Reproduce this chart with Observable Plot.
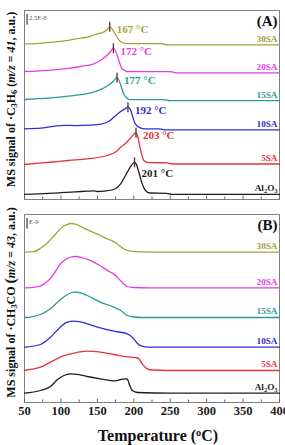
<!DOCTYPE html>
<html><head><meta charset="utf-8">
<script src="https://cdn.jsdelivr.net/npm/d3@7"></script>
<script src="https://cdn.jsdelivr.net/npm/@observablehq/plot@0.6"></script>
<style>
body{margin:0;background:#fff;}
#chart svg{display:block;}
</style></head><body><div id="chart"></div>
<script>
// ---------- data ----------
const samples = ["Al2O3", "5SA", "10SA", "15SA", "20SA", "30SA"];
const colors = ["#1e1e1e", "#e8323a", "#2e2ed8", "#2a9b95", "#e23fe2", "#a2a234"];
const peakTemps = [201, 203, 192, 177, 172, 167];
const offsetsA = [5.2, 35.5, 69.7, 98.8, 126.7, 154.7];
const offsetsB = [9.3, 32, 55.3, 85, 114.7, 150.3];
const xTicksMajor = [50, 100, 150, 200, 250, 300, 350, 400];
const xTicksMinor = [75, 125, 175, 225, 275, 325, 375];

// Panel A: ·C3H6 (m/z = 41), [temperature, signal above baseline]
const a_Al2O3 = [[50,0],[70,0.5],[90,1.1],[120,2.5],[136,3.1],[145,3.5],[150,2.8],[160,3.2],[172.6,4.8],[182,10.5],[188.6,18.8],[195,27],[201,32],[203.5,30],[207,22],[211.5,10.5],[216,3.8],[222,1.3],[245,1],[252,0],[400,0]];
const a_5SA = [[50,-0.5],[70,0.8],[90,2],[110,3.5],[136,5.2],[163.5,8.5],[175,12],[182,16.8],[190,21.5],[195.5,25.8],[203,31.2],[205.5,27],[209,15.2],[213.8,3.5],[220,1.3],[245,1.2],[253,0],[400,0]];
const a_10SA = [[50,1],[72,1.6],[90,3.5],[104,4.5],[120,4.2],[140,4.6],[155,5.6],[166,8.5],[172.6,12.6],[182,18.3],[188,21],[192,22.6],[196,19],[198,14.3],[202,6],[209,2],[215,1],[235,0.9],[243,0],[400,0]];
const a_15SA = [[50,1.2],[70,2],[90,3],[110,4.5],[127,6],[145,8.5],[154,11],[165,15.5],[172,19.5],[177,23],[181,18],[186,7],[190,3],[194,1.1],[240,1],[250,0],[400,0]];
const a_20SA = [[50,1.3],[70,2],[90,3],[110,4.5],[127,6.3],[145,9],[154,12.3],[163,17.3],[168,21],[172,24.6],[176,20],[179.5,12.3],[184,4],[191,1.3],[250,1.2],[258,0],[400,0]];
const a_30SA = [[50,1],[70,1.5],[90,2.6],[110,4.5],[127,6.6],[140,8.5],[150,11],[158,12.5],[163,14.8],[167,18],[171,15],[175,10],[178,6.5],[182,3],[188,1.5],[195,1.2],[237,1.1],[246,0],[400,0]];

// Panel B: ·CH3CO (m/z = 43)
const b_Al2O3 = [[50,0],[72,2.7],[85.7,6.7],[95,13.4],[104,17.7],[113,19.4],[125,18.5],[136,16.7],[154,14.4],[175,12.3],[182,13.7],[188.6,14.4],[191,14],[194.5,7.7],[198,2.7],[205,0.7],[250,0],[400,0]];
const b_5SA = [[50,0],[60,1.3],[72,3.3],[85.7,8.3],[99,13.3],[117.7,17.3],[136,19.3],[154,18.3],[172.6,16],[195.5,13.3],[204.7,12.5],[207,11.7],[211.5,6.7],[218.4,1.7],[225,0.5],[270,0],[400,0]];
const b_10SA = [[50,0],[72,2.7],[85.7,10],[99,20],[108.6,25],[117.7,26],[125,25.5],[136,23.4],[154,19.4],[172.6,16],[191,13.4],[198,10],[204.7,4],[211,1],[220,0],[400,0]];
const b_15SA = [[50,0],[60,0.7],[72,3],[85.7,8.7],[99,17.7],[108,22.5],[117.7,25.3],[125,25],[136,22],[154,15.3],[172.6,10.3],[182,7],[191,2],[200,0.5],[210,0],[400,0]];
const b_20SA = [[50,0],[65,0.7],[72,2],[81,6],[90,13.7],[99,23.7],[108.6,29.3],[115,31],[120,31.3],[130,30],[136,28.7],[154,22],[168,15.5],[172.6,13.7],[182,7],[187,3.5],[191,1.3],[200,0.3],[220,0],[400,0]];
const b_30SA = [[50,0],[63,0.5],[72,4],[81,9],[90,16],[101.7,25],[108,27.5],[114,28.7],[120,28],[136,22.5],[154,16.7],[163.5,13.4],[170,11.5],[177,8.4],[186,3.4],[195,1],[210,0.3],[240,0],[400,0]];

const seriesA = [a_Al2O3, a_5SA, a_10SA, a_15SA, a_20SA, a_30SA];
const seriesB = [b_Al2O3, b_5SA, b_10SA, b_15SA, b_20SA, b_30SA];

// ---------- build ----------
const serif = "'Liberation Serif','Times New Roman',serif";
const xDomain = [50, 400];
const color = {domain: samples, range: colors};

const rows = (arrs, offs) => arrs.flatMap((a, i) => a.map(([T, v]) => ({sample: samples[i], T, v: v + offs[i]})));
const labelRows = offs => samples.map((s, i) => ({sample: s, v: offs[i]}));
const peakRows = seriesA.map((a, i) => {
  const m = d3.max(a, d => d[1]);
  return {sample: samples[i], T: peakTemps[i], v: m + offsetsA[i], t: peakTemps[i]};
});

function common(data, offs, letter, scaleText) {
  return [
    Plot.frame({stroke: "#808080"}),
    Plot.axisX({ticks: xTicksMajor, tickSize: -3.5, fill: "none", label: null, stroke: "#666"}),
    Plot.axisX({ticks: xTicksMinor, tickSize: -2.5, fill: "none", label: null, stroke: "#666"}),
    Plot.line(data, {x: "T", y: "v", z: "sample", stroke: "sample", curve: "monotone-x", strokeWidth: 1.3}),
    Plot.text(labelRows(offs), {x: () => xDomain[1], y: "v", text: "sample", fill: "sample", textAnchor: "end", lineAnchor: "middle", dx: -2, dy: -6, fontSize: 9.2, fontWeight: "bold", fontFamily: serif}),
    Plot.text([letter], {frameAnchor: "top-right", textAnchor: "end", lineAnchor: "middle", dx: -2, dy: 10.5, fontSize: 15, fontWeight: "bold", fontFamily: serif, fill: "#111"}),
    Plot.text(["|"], {frameAnchor: "top-left", textAnchor: "start", lineAnchor: "middle", dx: 0.5, dy: 7.5, fontSize: 11, fontWeight: "bold", fontFamily: "DejaVu Sans", fill: "#444"}),
    Plot.text([scaleText], {frameAnchor: "top-left", textAnchor: "start", lineAnchor: "middle", dx: 4.5, dy: 7, fontSize: 6.5, fontFamily: serif, fill: "#555"})
  ];
}

const plotA = Plot.plot({
  width: 285, height: 206,
  marginTop: 10, marginBottom: 7, marginLeft: 24, marginRight: 6,
  x: {domain: xDomain, axis: null},
  y: {domain: [0, 189], axis: null},
  color,
  style: {fontFamily: serif, background: "#fff"},
  marks: [
    ...common(rows(seriesA, offsetsA), offsetsA, "(A)", "2.5E-8"),
    Plot.ruleX(peakRows, {x: "T", y1: d => d.v - 5.5, y2: d => d.v + 4.5, stroke: "#5b2b2b", strokeWidth: 1.3}),
    Plot.text(peakRows.filter(d => d.sample !== "Al2O3"), {x: "T", y: "v", text: d => `${d.t} °C`, fill: "sample", textAnchor: "start", lineAnchor: "middle", dx: 7, dy: 3, fontSize: 11, fontWeight: "bold", fontFamily: serif}),
    Plot.text(peakRows.filter(d => d.sample === "Al2O3"), {x: "T", y: "v", text: d => `${d.t} °C`, fill: "#1e1e1e", textAnchor: "start", lineAnchor: "middle", dx: 7, dy: 11, fontSize: 11, fontWeight: "bold", fontFamily: serif}),
    Plot.text(["YLABEL_A"], {frameAnchor: "left", rotate: -90, textAnchor: "middle", lineAnchor: "middle", dx: -13, dy: -5.5, fontSize: 12, fontWeight: "bold", fontFamily: serif, fill: "#111"})
  ]
});

const plotB = Plot.plot({
  width: 285, height: 239,
  marginTop: 8, marginBottom: 43, marginLeft: 24, marginRight: 6,
  x: {domain: xDomain, axis: null},
  y: {domain: [0, 188], axis: null},
  color,
  style: {fontFamily: serif, background: "#fff"},
  marks: [
    ...common(rows(seriesB, offsetsB), offsetsB, "(B)", "E-9"),
    Plot.axisX({ticks: xTicksMajor, tickSize: 0, tickPadding: 4, label: null, fontSize: 12.5, fontWeight: "bold", fontFamily: serif, fill: "#1a1a1a"}),
    Plot.text(["TITLE_X"], {frameAnchor: "bottom", textAnchor: "middle", lineAnchor: "middle", dx: 6, dy: 33, fontSize: 16, fontWeight: "bold", fontFamily: serif, fill: "#111"}),
    Plot.text(["YLABEL_B"], {frameAnchor: "left", rotate: -90, textAnchor: "middle", lineAnchor: "middle", dx: -13, dy: -6, fontSize: 12, fontWeight: "bold", fontFamily: serif, fill: "#111"})
  ]
});

// ---------- rich text (subscripts, italics, superscripts) ----------
const rich = {
  "Al2O3": [["Al"], ["2", "sub"], ["O"], ["3", "sub"]],
  "YLABEL_A": [["MS signal of ·C"], ["3", "sub"], ["H"], ["6", "sub"], [" ("], ["m/z = 41", "it"], [", a.u.)"]],
  "YLABEL_B": [["MS signal of ·CH"], ["3", "sub"], ["CO "], ["(", "big"], ["m/z = 43", "it"], [", a.u.)"]],
  "TITLE_X": [["Temperature ("], ["o", "sup"], ["C)"]]
};
function applyRich(svg) {
  svg.querySelectorAll("text").forEach(t => {
    const parts = rich[t.textContent];
    if (!parts) return;
    t.textContent = "";
    for (const [s, st] of parts) {
      const ts = document.createElementNS("http://www.w3.org/2000/svg", "tspan");
      ts.textContent = s;
      if (st === "sub") { ts.setAttribute("font-size", "70%"); ts.setAttribute("baseline-shift", "-0.25em"); }
      if (st === "sup") { ts.setAttribute("font-size", "65%"); ts.setAttribute("baseline-shift", "0.5em"); }
      if (st === "it") ts.setAttribute("font-style", "italic");
      if (st === "big") ts.setAttribute("font-size", "130%");
      t.appendChild(ts);
    }
  });
}
applyRich(plotA); applyRich(plotB);
const chart = document.getElementById("chart");
chart.appendChild(plotA);
chart.appendChild(plotB);
</script>
</body></html>
